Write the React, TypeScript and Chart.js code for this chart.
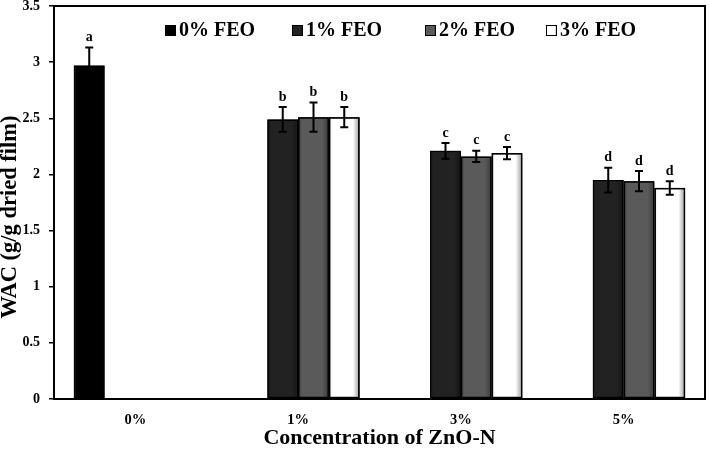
import React, { useEffect, useRef } from "react";
import { Chart, registerables } from "chart.js";

Chart.register(...registerables);

// ---- data ----
const categories = ["0%", "1%", "3%", "5%"];
const seriesNames = ["0% FEO", "1% FEO", "2% FEO", "3% FEO"];
const feo0 = [2.97, null, null, null];
const feo1 = [null, 2.49, 2.21, 1.95];
const feo2 = [null, 2.51, 2.16, 1.94];
const feo3 = [null, 2.51, 2.19, 1.88];
const err0 = [0.16, null, null, null];
const err1 = [null, 0.11, 0.07, 0.11];
const err2 = [null, 0.13, 0.05, 0.09];
const err3 = [null, 0.09, 0.055, 0.06];
const letters0 = ["a", "", "", ""];
const letters1 = ["", "b", "c", "d"];
const letters2 = ["", "b", "c", "d"];
const letters3 = ["", "b", "c", "d"];
const yTitle = "WAC (g/g dried film)";
const xTitle = "Concentration of ZnO-N";

const seriesValues = [feo0, feo1, feo2, feo3];
const seriesErrors = [err0, err1, err2, err3];
const seriesLetters = [letters0, letters1, letters2, letters3];

// ---- styles ----
const FONT = '"Liberation Serif", "Times New Roman", serif';
const fills = [
  { l: "#000000", m: "#000000", r: "#000000" },
  { l: "#161616", m: "#222222", r: "#141414" },
  { l: "#3c3c3c", m: "#5a5a5a", r: "#3a3a3a" },
  { l: "#e6e6e6", m: "#ffffff", r: "#9a9a9a" },
];

function makeGrad(ctx: CanvasRenderingContext2D, x0: number, x1: number, f: any) {
  const g = ctx.createLinearGradient(x0, 0, x1, 0);
  g.addColorStop(0, f.l);
  g.addColorStop(0.12, f.m);
  g.addColorStop(0.78, f.m);
  g.addColorStop(1, f.r);
  return g;
}

const decorPlugin = {
  id: "decor",
  afterDatasetsDraw(chart: any) {
    const ctx: CanvasRenderingContext2D = chart.ctx;
    const yScale = chart.scales.y;
    ctx.save();
    chart.data.datasets.forEach((ds: any, di: number) => {
      const meta = chart.getDatasetMeta(di);
      meta.data.forEach((el: any, i: number) => {
        const v = seriesValues[di][i];
        if (v == null) return;
        const left = el.x - el.width / 2;
        const right = el.x + el.width / 2;
        const top = el.y;
        const bottom = el.base;
        const bw = 1.5;
        ctx.fillStyle = makeGrad(ctx, left, right, fills[di]);
        ctx.fillRect(left + bw, top + bw, right - left - 2 * bw, bottom - top - 2 * bw);
        ctx.lineWidth = 1.5;
        ctx.strokeStyle = "#000";
        ctx.strokeRect(left + 0.75, top + 0.75, right - left - 1.5, bottom - top - 1.5);
        const e = seriesErrors[di][i];
        if (e != null) {
          const yt = yScale.getPixelForValue(v + e);
          const yb = yScale.getPixelForValue(v - e);
          ctx.beginPath();
          ctx.lineWidth = 2;
          ctx.moveTo(el.x, yt);
          ctx.lineTo(el.x, yb);
          ctx.moveTo(el.x - 4, yt);
          ctx.lineTo(el.x + 4, yt);
          ctx.moveTo(el.x - 4, yb);
          ctx.lineTo(el.x + 4, yb);
          ctx.stroke();
          const letter = seriesLetters[di][i];
          if (letter) {
            ctx.fillStyle = "#000";
            ctx.font = `bold 14px ${FONT}`;
            ctx.textAlign = "center";
            ctx.textBaseline = "middle";
            ctx.fillText(letter, el.x, yt - 10);
          }
        }
      });
    });
    ctx.restore();
  },
  afterDraw(chart: any) {
    const ctx: CanvasRenderingContext2D = chart.ctx;
    const a = chart.chartArea;
    ctx.save();
    ctx.strokeStyle = "#000";
    ctx.lineWidth = 2;
    ctx.strokeRect(a.left, a.top, a.right - a.left, a.bottom - a.top);
    // y-axis title (slightly below the axis centre, as in the reference)
    ctx.save();
    ctx.translate(10, 217);
    ctx.rotate(-Math.PI / 2);
    ctx.font = `bold 22.5px ${FONT}`;
    ctx.fillStyle = "#000";
    ctx.textAlign = "center";
    ctx.textBaseline = "middle";
    ctx.fillText(yTitle, 0, 0);
    ctx.restore();
    // legend
    const xs = [165, 292, 425, 546];
    const by = 25;
    ctx.font = `bold 20px ${FONT}`;
    ctx.textBaseline = "middle";
    ctx.textAlign = "left";
    seriesNames.forEach((name, i) => {
      const x = xs[i];
      ctx.fillStyle = makeGrad(ctx, x, x + 11, fills[i]);
      ctx.fillRect(x, by, 11, 11);
      ctx.lineWidth = 1;
      ctx.strokeStyle = "#000";
      ctx.strokeRect(x + 0.5, by + 0.5, 10, 10);
      ctx.fillStyle = "#000";
      ctx.fillText(name, x + 14, by + 6);
    });
    ctx.restore();
  },
};

export default function App() {
  const ref = useRef<HTMLCanvasElement | null>(null);
  useEffect(() => {
    if (!ref.current) return;
    const chart = new Chart(ref.current, {
      type: "bar",
      data: {
        labels: categories,
        datasets: seriesNames.map((name, i) => ({
          label: name,
          data: seriesValues[i] as any,
          backgroundColor: fills[i].m,
          borderColor: "#000",
          borderWidth: 1.5,
          barPercentage: 1,
          categoryPercentage: 0.756,
        })),
      },
      options: {
        animation: false,
        responsive: true,
        maintainAspectRatio: false,
        layout: { padding: { top: 6, right: 4, left: 0, bottom: 0 } },
        plugins: { legend: { display: false }, tooltip: { enabled: false } },
        scales: {
          x: {
            grid: { display: false, drawTicks: false },
            border: { color: "#000", width: 2 },
            ticks: { color: "#000", padding: 13, font: { family: FONT, size: 14.5, weight: "bold" } },
            title: {
              display: true,
              text: xTitle,
              color: "#000",
              font: { family: FONT, size: 22, weight: "bold", lineHeight: 1 },
              padding: { top: 0, bottom: 0 },
            },
            afterFit: (s: any) => {
              s.height = 50;
              s.paddingLeft = 0;
              s.paddingRight = 0;
            },
          },
          y: {
            min: 0,
            max: 3.5,
            ticks: {
              stepSize: 0.5,
              color: "#000",
              padding: 9,
              font: { family: FONT, size: 14, weight: "bold" },
              callback: (v: any) => String(Number(v)),
            },
            grid: { drawOnChartArea: false, tickLength: 5, color: "#000", lineWidth: 1.5 },
            border: { color: "#000", width: 2 },
            title: { display: false },
            afterFit: (s: any) => {
              s.width = 54;
              s.paddingTop = 0;
              s.paddingBottom = 0;
            },
          },
        },
      },
      plugins: [decorPlugin],
    });
    return () => chart.destroy();
  }, []);
  return (
    <div style={{ position: "fixed", left: 0, top: 0, width: 709, height: 449, background: "#fff" }}>
      <canvas ref={ref} />
    </div>
  );
}
